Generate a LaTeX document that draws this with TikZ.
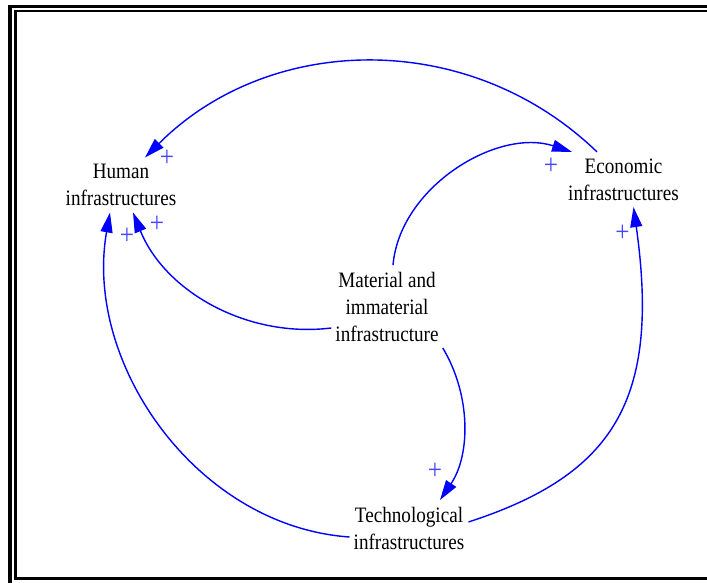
\documentclass[tikz,border=0pt]{standalone}
\usepackage{fontspec}
\setmainfont{Liberation Serif}[FakeStretch=0.87]
\usetikzlibrary{arrows.meta}
\definecolor{linkblue}{RGB}{0,0,255}
\definecolor{signblue}{RGB}{70,70,255}

\begin{document}
\begin{tikzpicture}[x=1pt, y=1pt,
  var/.style={align=center, inner xsep=4pt, inner ysep=6.5pt, font=\fontsize{22}{27}\selectfont},
  link/.style={draw=linkblue, line width=1.4pt, -{Triangle[length=20pt, width=12pt]}},
  sign/.style={text=signblue, font=\fontsize{29}{29}\selectfont, inner sep=0pt}]
	\useasboundingbox (0,0) rectangle (707,582);
	\clip (0,0) rectangle (707,582);
	\draw[line width=3.5pt] (10,575.5) rectangle (720,-3);
	\draw[line width=2.5pt] (15.5,571) rectangle (715,3.5);
	\node[var] (hum) at (121,397) {Human\\infrastructures};
	\node[var] (eco) at (623.5,402.5) {Economic\\infrastructures};
	\node[var] (mat) at (387,275.5) {Material and\\immaterial\\infrastructure};
	\node[var] (tech) at (409,54) {Technological\\infrastructures};
	\draw[link] ([xshift=-26.5]eco.north) to[out=136, in=45] node[sign, pos=1, xshift=22, yshift=-1] {+} ([xshift=24]hum.north);
	\draw[link] ([xshift=6]mat.north) to[out=85, in=162, looseness=.95] node[sign, pos=1, xshift=-21, yshift=-14] {+} ([xshift=-51.5]eco.north);
	\draw[link] ([yshift=-21.5]mat.west) to[out=187, in=-68, looseness=.95] node[sign, pos=1, xshift=24, yshift=-12] {+} ([xshift=12]hum.south);
	\draw[link] (mat.south east) to[out=-59, in=56, looseness=.92] node[sign, pos=1, xshift=-5, yshift=29] {+} ([xshift=31]tech.north);
	\draw[link] ([yshift=-9]tech.west) to[out=176, in=-100, looseness=.97] node[sign, pos=1, xshift=17, yshift=-24] {+} ([xshift=-11]hum.south);
	\draw[link] ([yshift=6]tech.east) to[out=18, in=-82, out looseness=1.1, in looseness=1.4] node[sign, pos=1, xshift=-11, yshift=-26] {+} ([xshift=10]eco.south);
\end{tikzpicture}
\end{document}
